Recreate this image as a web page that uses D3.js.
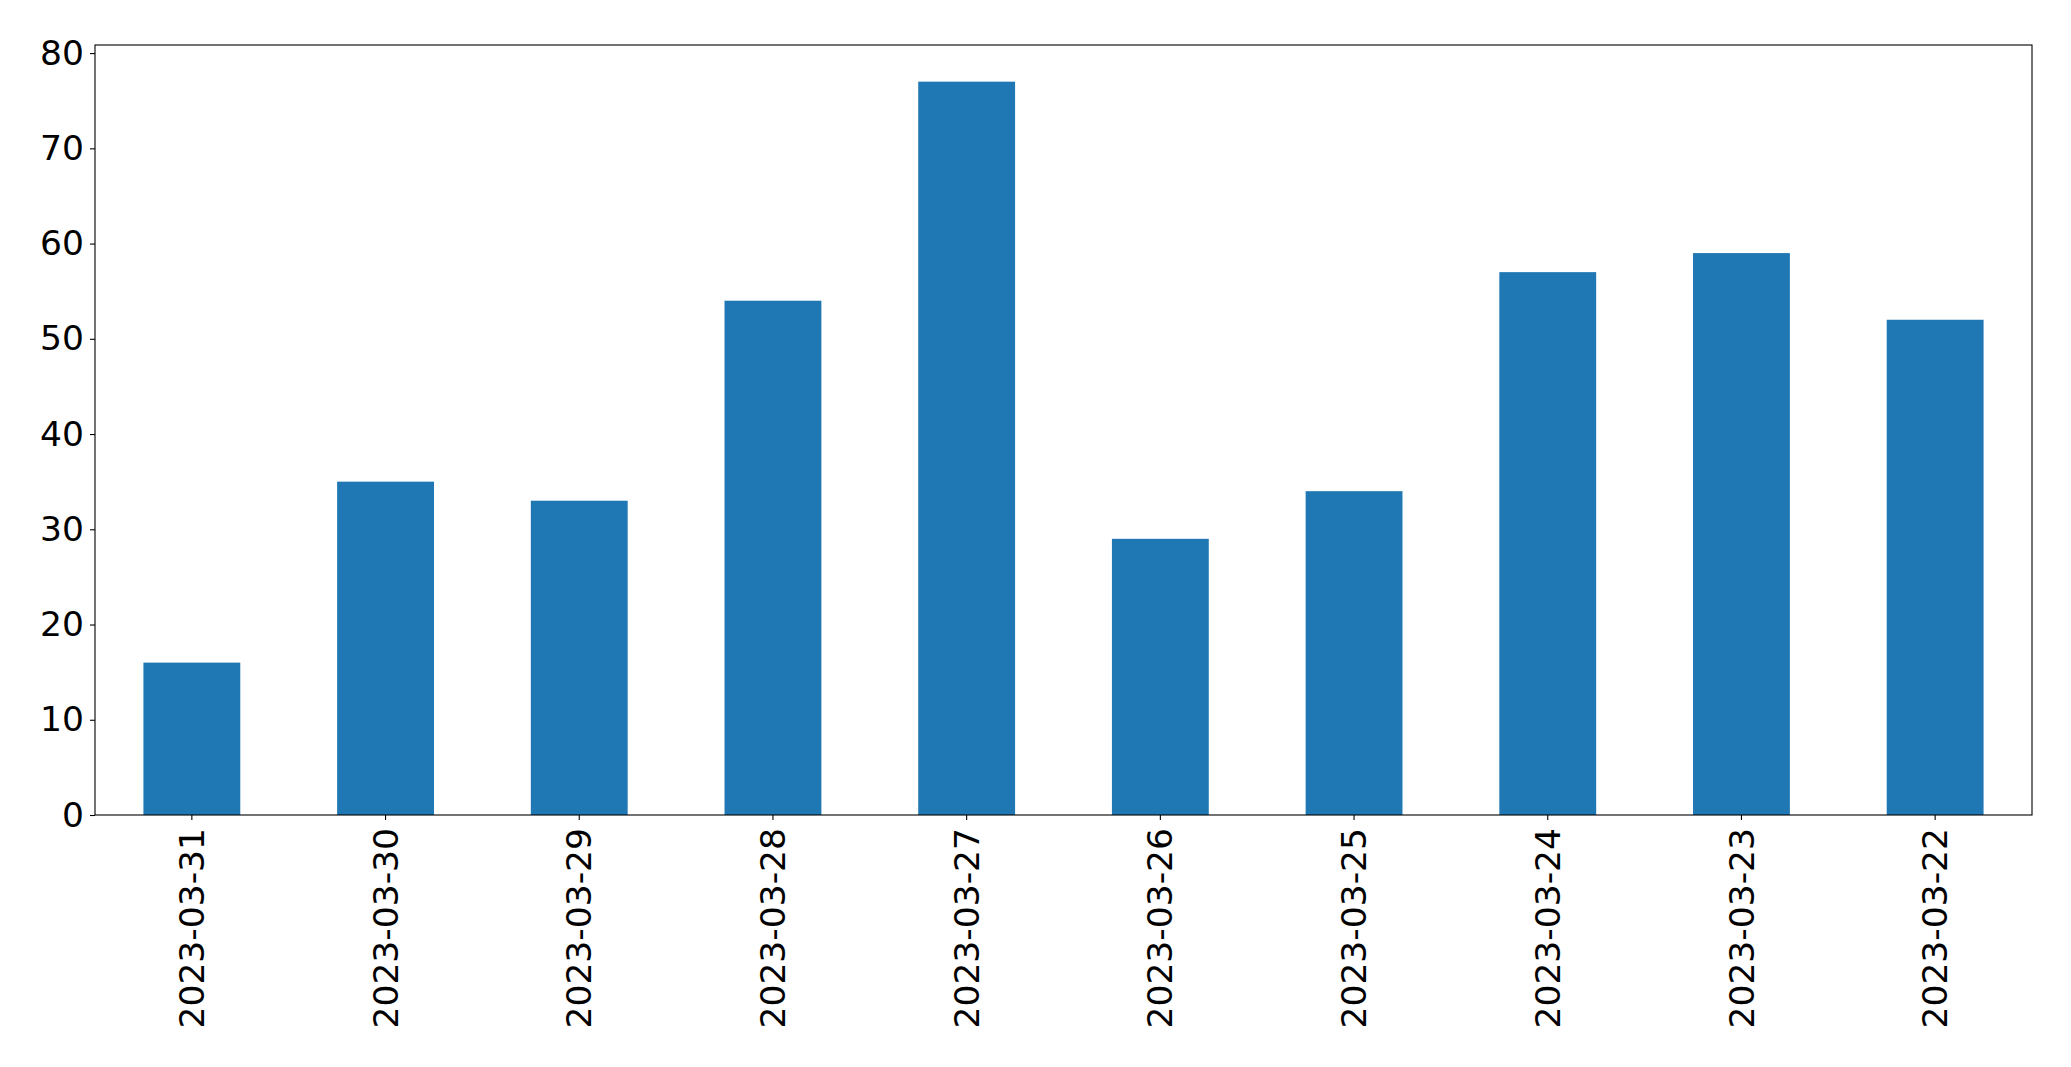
<!DOCTYPE html>
<html>
<head>
<meta charset="utf-8">
<script src="https://cdn.jsdelivr.net/npm/d3@7"></script>
<style>
  body { margin: 0; background: #fff; }
  svg { display: block; }
  text { font-family: "DejaVu Sans", sans-serif; fill: #000; }
</style>
</head>
<body>
<div id="chart-area"></div>
<script>
var dates = ["2023-03-31", "2023-03-30", "2023-03-29", "2023-03-28", "2023-03-27",
             "2023-03-26", "2023-03-25", "2023-03-24", "2023-03-23", "2023-03-22"];
var counts = [16, 35, 33, 54, 77, 29, 34, 57, 59, 52];
var yTicks = [0, 10, 20, 30, 40, 50, 60, 70, 80];

var width = 2071, height = 1067;
var margin = { top: 45, right: 39, bottom: 252, left: 95 };
var plotW = width - margin.left - margin.right;
var plotH = height - margin.top - margin.bottom;
var fontSize = 34.5;

var svg = d3.select("#chart-area").append("svg")
    .attr("width", width)
    .attr("height", height);

var g = svg.append("g")
    .attr("transform", "translate(" + margin.left + "," + margin.top + ")");

var x = d3.scaleBand()
    .domain(dates)
    .range([0, plotW])
    .paddingInner(0.5)
    .paddingOuter(0.25);

// matplotlib pads the top by 5% of the max
var y = d3.scaleLinear()
    .domain([0, d3.max(counts) * 1.05])
    .range([plotH, 0]);

g.selectAll(".bar")
    .data(counts)
    .enter()
    .append("rect")
    .attr("class", "bar")
    .attr("x", function (d, i) { return x(dates[i]); })
    .attr("y", function (d) { return y(d); })
    .attr("width", x.bandwidth())
    .attr("height", function (d) { return plotH - y(d); })
    .attr("fill", "#1f77b4");

var yAxis = g.append("g")
    .call(d3.axisLeft(y).tickValues(yTicks).tickSize(5).tickPadding(6).tickFormat(d3.format("d")));
yAxis.select(".domain").remove();
yAxis.selectAll("line").attr("stroke", "#000").attr("stroke-width", 1.1);
yAxis.selectAll("text")
    .style("font-size", fontSize + "px")
    .style("font-family", "'DejaVu Sans', sans-serif");

var xAxis = g.append("g")
    .attr("transform", "translate(0," + plotH + ")")
    .call(d3.axisBottom(x).tickSize(5).tickPadding(0));
xAxis.select(".domain").remove();
xAxis.selectAll("line").attr("stroke", "#000").attr("stroke-width", 1.1);
xAxis.selectAll("text")
    .style("font-size", fontSize + "px")
    .style("font-family", "'DejaVu Sans', sans-serif")
    .attr("text-anchor", "end")
    .attr("transform", "translate(0,13) rotate(-90)")
    .attr("x", 0)
    .attr("y", 0)
    .attr("dy", "0.35em");

// frame
g.append("rect")
    .attr("x", 0)
    .attr("y", 0)
    .attr("width", plotW)
    .attr("height", plotH)
    .attr("fill", "none")
    .attr("stroke", "#000")
    .attr("stroke-width", 1.1);
</script>
</body>
</html>
